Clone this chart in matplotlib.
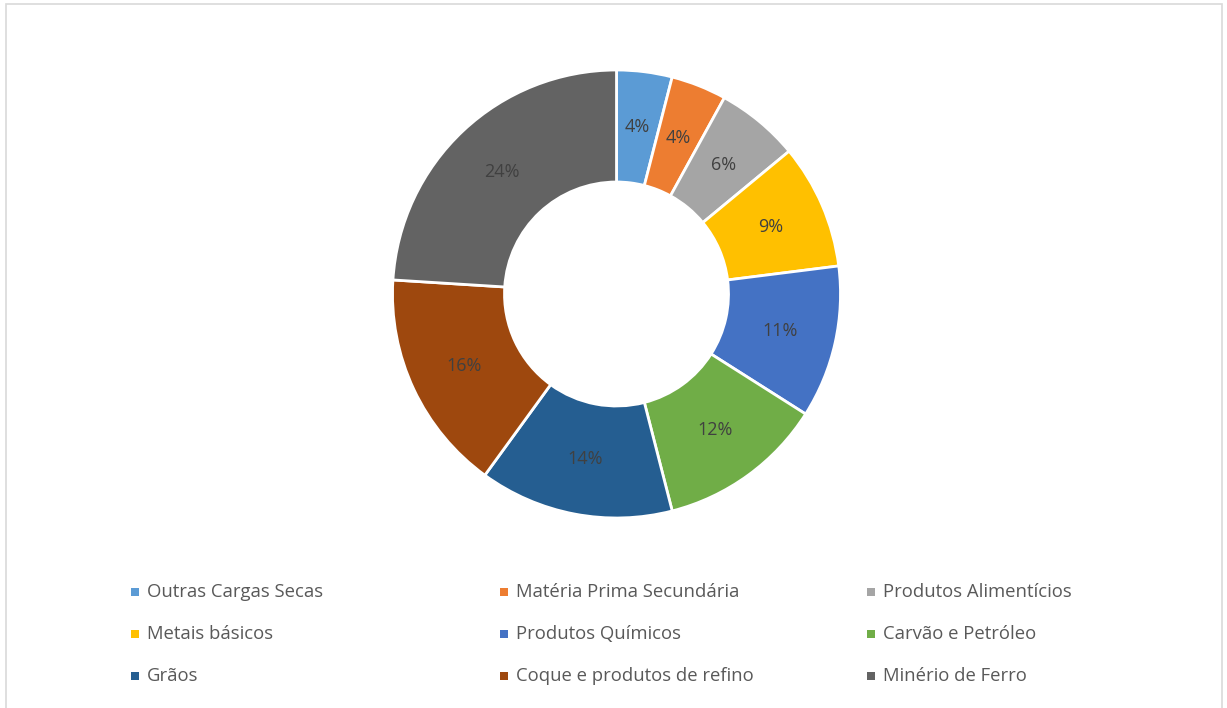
import matplotlib.pyplot as plt
from matplotlib.patches import Rectangle

labels = ["Outras Cargas Secas", "Matéria Prima Secundária", "Produtos Alimentícios",
          "Metais básicos", "Produtos Químicos", "Carvão e Petróleo",
          "Grãos", "Coque e produtos de refino", "Minério de Ferro"]
values = [4, 4, 6, 9, 11, 12, 14, 16, 24]
colors = ["#5B9BD5", "#ED7D31", "#A5A5A5", "#FFC000", "#4472C4", "#70AD47",
          "#255E91", "#9E480E", "#636363"]

W, H = 1227, 708
plt.rcParams['font.family'] = ['Open Sans', 'DejaVu Sans']
fig = plt.figure(figsize=(W / 100, H / 100), dpi=100)

# moldura cinza clara
fig.patches.append(Rectangle((6 / W, -0.01), (1222 - 6) / W, (H - 4) / H + 0.01,
                             transform=fig.transFigure, fill=False,
                             edgecolor="#D9D9D9", linewidth=1.2))

cx, cy, r = 616.5, 294, 224
ax = fig.add_axes([(cx - r) / W, (H - cy - r) / H, 2 * r / W, 2 * r / H])
wedges, texts, autotexts = ax.pie(
    values, colors=colors, startangle=90, counterclock=False, radius=1,
    autopct="%1.0f%%", pctdistance=0.75,
    wedgeprops=dict(width=0.5, edgecolor="white", linewidth=2),
    textprops=dict(color="#404040", fontsize=13))
ax.set_xlim(-1, 1)
ax.set_ylim(-1, 1)
ax.set_aspect("equal")
ax.axis("off")

# legenda manual em 3 colunas
col_x = [131, 500, 867]
row_y = [592, 634, 676]
for i, (lab, col) in enumerate(zip(labels, colors)):
    x = col_x[i % 3]
    y = row_y[i // 3]
    s = 8
    fig.patches.append(Rectangle((x / W, (H - y - s / 2) / H), s / W, s / H,
                                 transform=fig.transFigure, facecolor=col,
                                 edgecolor="none"))
    fig.text((x + 16) / W, (H - y) / H, lab, fontsize=13.3, color="#595959",
             va="center", ha="left")

fig.savefig("out.png", dpi=100)
